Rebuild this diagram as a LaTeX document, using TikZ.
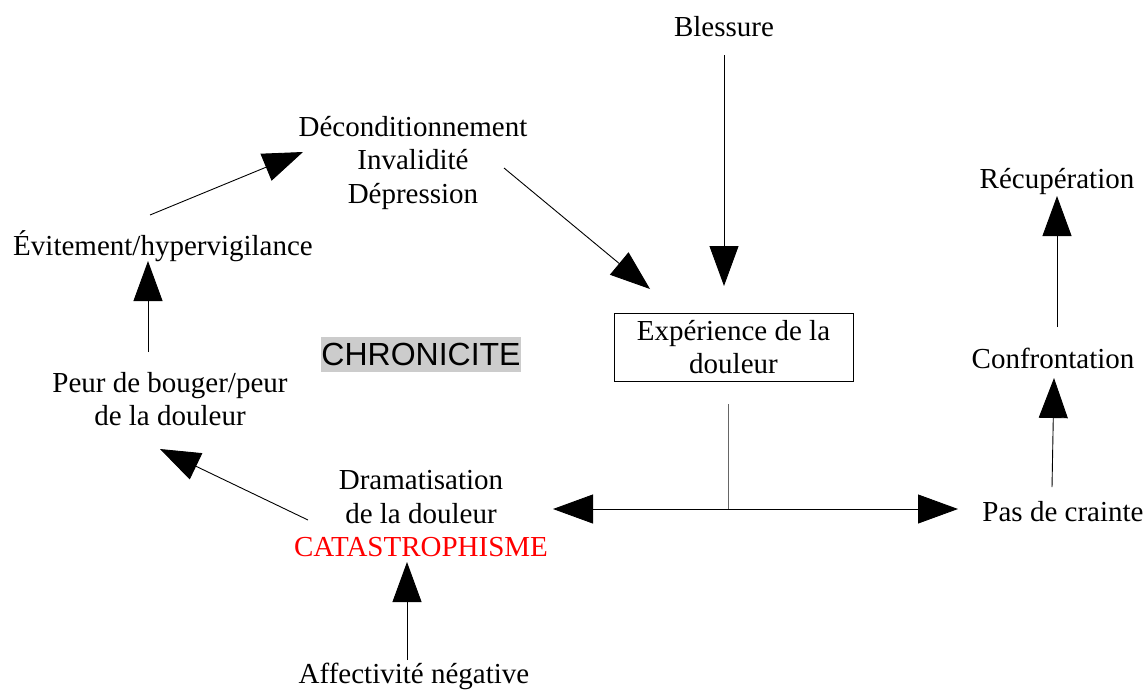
\documentclass[tikz,border=0pt]{standalone}
\usepackage{fontspec}
\setmainfont{Liberation Serif}
\newfontfamily\arialf{Liberation Sans}
\usetikzlibrary{arrows.meta}
\definecolor{boxgray}{HTML}{CCCCCC}
\begin{document}
\begin{tikzpicture}[x=1pt,y=-1pt,
  lbl/.style={inner sep=0pt,align=center,font=\fontsize{29}{33.5}\selectfont},
  conn/.style={line width=0.9pt,-{Triangle[length=40pt,width=29pt]}},
  plain/.style={line width=0.9pt}]
\useasboundingbox (0,0) rectangle (1147,691);
% nodes
\node[lbl] (bless) at (724,27) {Blessure};
\node[lbl] (decond) at (413,163) {Déconditionnement\\Invalidité\\Dépression};
\node[lbl] (evit) at (163,246) {Évitement/hypervigilance};
\node[lbl] (peur) at (170,399) {Peur de bouger/peur\\de la douleur};
\node[inner sep=0pt,fill=boxgray,minimum width=199pt,minimum height=35pt,font=\arialf\fontsize{32}{34}\selectfont] (chron) at (421,354) {CHRONICITE};
\node[draw,line width=0.9pt,minimum width=239pt,minimum height=68pt,inner sep=0pt,align=center,font=\fontsize{29}{33.5}\selectfont] (exp) at (733.5,347) {Expérience de la\\douleur};
\node[lbl] (recup) at (1057,182) {Récupération};
\node[lbl] (confr) at (1053,358) {Confrontation};
\node[lbl] (pas) at (1063,512) {Pas de crainte};
\node[lbl] (drama) at (421,514) {Dramatisation\\de la douleur\\\textcolor{red}{CATASTROPHISME}};
\node[lbl] (affect) at (414,676) {Affectivité négative};
% connector end points
\coordinate (blessS) at (724,55);
\coordinate (expN) at (724,286);
\coordinate (decondS) at (504,168);
\coordinate (expNW) at (650,289);
\coordinate (evitN) at (150,215);
\coordinate (decondW) at (303,152);
\coordinate (peurN) at (148,352);
\coordinate (evitS) at (148,261);
\coordinate (dramaW) at (308,520);
\coordinate (peurS) at (160,449);
\coordinate (affectN) at (407,660);
\coordinate (dramaS) at (407,562);
\coordinate (expS) at (728,404);
\coordinate (junc) at (728,509);
\coordinate (dramaE) at (553,509);
\coordinate (pasW) at (958,509);
\coordinate (pasN) at (1052,487);
\coordinate (confrS) at (1054,378);
\coordinate (confrN) at (1057,327);
\coordinate (recupS) at (1057,196);
% connectors
\draw[conn] (blessS) -- (expN);
\draw[conn] (decondS) -- (expNW);
\draw[conn] (evitN) -- (decondW);
\draw[conn] (peurN) -- (evitS);
\draw[conn] (dramaW) -- (peurS);
\draw[conn] (affectN) -- (dramaS);
\draw[plain,draw=black!60] (expS) -- (junc);
\draw[conn] (junc) -- (dramaE);
\draw[conn] (junc) -- (pasW);
\draw[conn] (pasN) -- (confrS);
\draw[conn] (confrN) -- (recupS);
\end{tikzpicture}
\end{document}
